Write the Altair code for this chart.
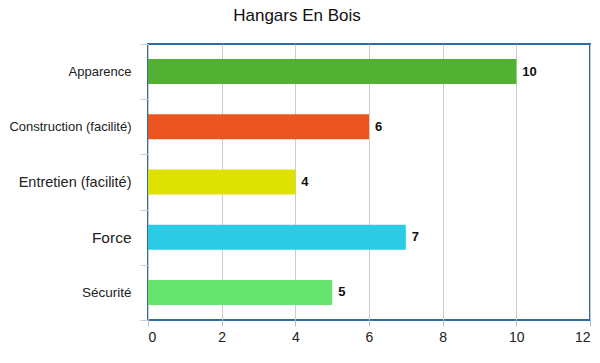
import altair as alt
import pandas as pd

categories = ["Apparence", "Construction (facilité)", "Entretien (facilité)", "Force", "Sécurité"]
values = [10, 6, 4, 7, 5]
colors = ["#52b133", "#ea5520", "#dde200", "#2ccbe4", "#67e46e"]
label_sizes = [13, 13, 14.5, 15.5, 13.5]

df = pd.DataFrame({"cat": categories, "val": values, "col": colors})

size_expr = " : ".join(
    f"datum.value == '{c}' ? {s}" for c, s in zip(categories, label_sizes)
) + " : 13"

y = alt.Y(
    "cat:N",
    sort=categories,
    title=None,
    scale=alt.Scale(paddingInner=0, paddingOuter=0),
    axis=alt.Axis(
        tickBand="extent",
        tickSize=8,
        tickColor="#cccccc",
        domain=False,
        labelPadding=9,
        labelFont="Liberation Sans",
        labelFontSize={"expr": size_expr},
        labelColor="#222222",
        grid=False,
    ),
)

x = alt.X(
    "val:Q",
    title=None,
    scale=alt.Scale(domain=[0, 12], nice=False),
    axis=alt.Axis(
        values=[0, 2, 4, 6, 8, 10, 12],
        tickSize=6,
        tickColor="#bbbbbb",
        domain=False,
        grid=True,
        gridColor="#cccccc",
        labelPadding=4,
        labelFont="Liberation Sans",
        labelFontSize=14,
        labelColor="#222222",
    ),
)

bars = alt.Chart(df).mark_bar(size=25).encode(
    x=x, y=y, color=alt.Color("col:N", scale=None)
)

text = alt.Chart(df).mark_text(
    align="left", dx=6, font="Liberation Sans", fontSize=13, fontWeight="bold", color="#111111"
).encode(x="val:Q", y=alt.Y("cat:N", sort=categories), text="val:Q")

chart = (
    alt.layer(bars, text)
    .properties(
        width=442,
        height=276,
        background="white",
        title=alt.TitleParams(
            "Hangars En Bois",
            font="Liberation Sans",
            fontSize=17,
            fontWeight="normal",
            color="#111111",
            anchor="middle",
            dx=-72,
            offset=13,
        ),
        padding={"left": 140, "top": 36, "right": 2, "bottom": 35},
        autosize=alt.AutoSizeParams(type="none"),
    )
    .configure_view(stroke="#2e6ca8", strokeWidth=2)
)

chart.save("out.html", embed_options={"renderer": "svg", "actions": False})
